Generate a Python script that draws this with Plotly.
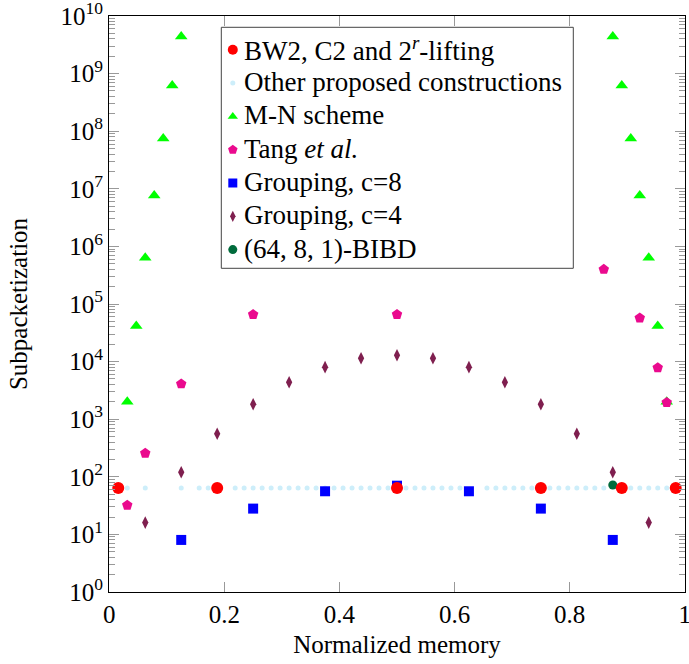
import plotly.graph_objects as go

# ---------------- data ----------------
# BW2, C2 and 2^r-lifting
bw2_x = [1/64, 12/64, 32/64, 48/64, 57/64, 63/64]
bw2_y = [64, 64, 64, 64, 64, 64]

# Other proposed constructions (memory index t, M = t/64)
other_t = [2, 4, 8, 10, 11] + list(range(14, 32)) + list(range(33, 40)) + \
          list(range(42, 48)) + list(range(49, 56)) + list(range(58, 63))
other_x = [t / 64 for t in other_t]
other_y = [64 for _ in other_t]

# M-N scheme
mn_t = [2, 3, 4, 5, 6, 7, 8, 56, 57, 58, 59, 60, 61, 62]
mn_x = [t / 64 for t in mn_t]
mn_y = [2016, 41664, 635376, 7624512, 74974368, 621216192, 4426165368,
        4426165368, 621216192, 74974368, 7624512, 635376, 41664, 2016]

# Tang et al.
tang_x = [2/64, 4/64, 8/64, 16/64, 32/64, 55/64, 59/64, 61/64, 62/64]
tang_y = [32, 256, 4096, 65536, 65536, 400000, 57000, 7800, 1950]

# Grouping, c=8
g8_x = [1/8, 2/8, 3/8, 4/8, 5/8, 6/8, 7/8]
g8_y = [8, 28, 56, 70, 56, 28, 8]

# Grouping, c=4
g4_x = [t / 16 for t in range(1, 16)]
g4_y = [16, 120, 560, 1820, 4368, 8008, 11440, 12870, 11440, 8008, 4368,
        1820, 560, 120, 16]

# (64, 8, 1)-BIBD
bibd_x = [7/8]
bibd_y = [72]

x_ticks = [0, 0.2, 0.4, 0.6, 0.8, 1]
x_ticktext = ["0", "0.2", "0.4", "0.6", "0.8", "1"]
y_ticks = [10**k for k in range(0, 11)]
y_ticktext = ["10<sup>%d</sup>" % k for k in range(0, 11)]

# ---------------- style ----------------
FONT = "Liberation Serif"
W, H = 689, 664
PL, PR, PT, PB = 108.7, 684.7, 15.7, 591.7   # plot area in pixels

series = [
    # name, x, y, symbol, size, legend size, colour
    ("BW2, C2 and 2<sup><i>r</i></sup>-lifting", bw2_x, bw2_y, "circle", 12, 10, "#ff0000"),
    ("Other proposed constructions", other_x, other_y, "circle", 5, 5, "#cdeefa"),
    ("M-N scheme", mn_x, mn_y, "triangle-up", 11, 9, "#00ff00"),
    ("Tang <i>et al.</i>", tang_x, tang_y, "pentagon", 11, 10, "#ea0a8e"),
    ("Grouping, c=8", g8_x, g8_y, "square", 10, 9, "#0000ff"),
    ("Grouping, c=4", g4_x, g4_y, "diamond-tall", 9, 8, "#7f1f4f"),
    ("(64, 8, 1)-BIBD", bibd_x, bibd_y, "circle", 9, 9, "#006b3c"),
]
draw_order = [1, 2, 3, 4, 5, 6, 0]

fig = go.Figure()
for i in draw_order:
    name, xs, ys, sym, size, _, col = series[i]
    fig.add_trace(go.Scatter(x=xs, y=ys, mode="markers", name=name, showlegend=False,
                             marker=dict(symbol=sym, size=size, color=col, line=dict(width=0))))

# ---------------- hand-drawn legend (pixel coordinates on an overlay axis) ----------------
LEG_L, LEG_R, LEG_T, LEG_B = 221, 573, 27, 268
ROW0, ROW_STEP = 48.5, 33.3
SYM_X, TXT_X = 232.5, 242

fig.add_shape(type="rect", xref="x2", yref="y2", x0=LEG_L, x1=LEG_R, y0=LEG_T, y1=LEG_B,
              line=dict(color="#444444", width=1), fillcolor="white", layer="below")
for k, (name, xs, ys, sym, size, lsize, col) in enumerate(series):
    yrow = ROW0 + k * ROW_STEP
    fig.add_trace(go.Scatter(x=[SYM_X], y=[yrow + 1], xaxis="x2", yaxis="y2", mode="markers",
                             showlegend=False, hoverinfo="skip", cliponaxis=False,
                             marker=dict(symbol=sym, size=lsize, color=col, line=dict(width=0))))
    fig.add_annotation(xref="x2", yref="y2", x=TXT_X, y=yrow, text=name, showarrow=False,
                       xanchor="left", yanchor="middle",
                       font=dict(family=FONT, size=27, color="black"))

fig.update_layout(
    width=W, height=H,
    margin=dict(l=PL, r=W - PR, t=PT, b=H - PB, autoexpand=False),
    paper_bgcolor="white", plot_bgcolor="white",
    font=dict(family=FONT, size=25, color="black"),
    showlegend=False,
    xaxis2=dict(overlaying="x", range=[PL, PR], visible=False, fixedrange=True, anchor="y2"),
    yaxis2=dict(overlaying="y", range=[PB, PT], visible=False, fixedrange=True, anchor="x2"),
)

fig.layout.xaxis.update(
    range=[-0.0005, 1.0005], tickvals=x_ticks, ticktext=x_ticktext, automargin=False,
    showgrid=False, zeroline=False, ticklabeloverflow="allow",
    showline=True, linecolor="black", linewidth=1, mirror="ticks",
    ticks="inside", ticklen=10, tickcolor="#999999", tickwidth=1,
    tickfont=dict(family=FONT, size=25),
    title=dict(text="Normalized memory", font=dict(family=FONT, size=25), standoff=8),
)
fig.layout.yaxis.update(
    type="log", range=[-0.001, 10.001], tickvals=y_ticks, ticktext=y_ticktext, automargin=False,
    showgrid=False, zeroline=False, ticklabeloverflow="allow",
    showline=True, linecolor="black", linewidth=1, mirror="ticks",
    ticks="inside", ticklen=10, tickcolor="#999999", tickwidth=1,
    minor=dict(ticks="inside", ticklen=6, tickcolor="#999999", dtick="D1", showgrid=False),
    tickfont=dict(family=FONT, size=25),
    title=dict(text="Subpacketization", font=dict(family=FONT, size=25), standoff=25),
)

fig.write_html("out.html", config={"displayModeBar": False},
               post_script="document.body.style.margin='0px';")
